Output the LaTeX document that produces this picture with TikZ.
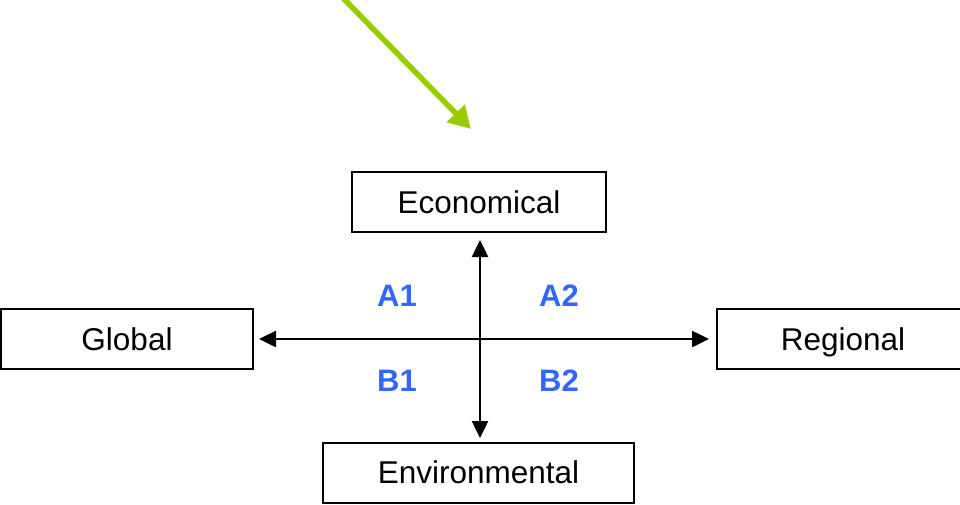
\documentclass[tikz,border=0pt]{standalone}
\usepackage{fontspec}
\setmainfont{Liberation Sans}
\usetikzlibrary{arrows.meta}
\definecolor{leaf}{RGB}{153,204,0}
\definecolor{quadblue}{RGB}{51,102,255}
\begin{document}
\begin{tikzpicture}[x=1pt,y=-1pt,
  axisbox/.style={draw=black,line width=2pt,minimum height=60pt,inner sep=0pt,
    text height=22.5pt,text depth=0pt,font=\fontsize{31.5}{34}\selectfont},
  axisarrow/.style={line width=2.5pt,{Triangle[length=17pt,width=16pt]}-{Triangle[length=17pt,width=16pt]}},
  quad/.style={text=quadblue,font=\fontsize{31}{34}\selectfont\bfseries}]
\useasboundingbox (0,0) rectangle (960,504);
% the four poles
\node[axisbox,minimum width=254pt] (econ) at (479,202) {Economical};
\node[axisbox,minimum width=311pt] (env) at (478.5,472.5) {Environmental};
\node[axisbox,minimum width=252pt] (glob) at (127,339) {Global};
\node[axisbox,minimum width=252pt] (reg) at (843,339) {Regional};
% axes
\coordinate (top) at (480,240);
\coordinate (bot) at (480,438);
\coordinate (lft) at (259,339);
\coordinate (rgt) at (709,339);
\draw[axisarrow] (top) -- (bot);
\draw[axisarrow] (lft) -- (rgt);
% quadrant labels
\node[quad] (a1) at (397,296) {A1};
\node[quad] (a2) at (559,296) {A2};
\node[quad] (b1) at (397,381) {B1};
\node[quad] (b2) at (559,381) {B2};
% green pointer
\coordinate (gs) at (343,-2);
\coordinate (ge) at (471,129);
\draw[leaf,line width=5.5pt,-{Triangle[length=22pt,width=24pt]}] (gs) -- (ge);
\end{tikzpicture}
\end{document}
